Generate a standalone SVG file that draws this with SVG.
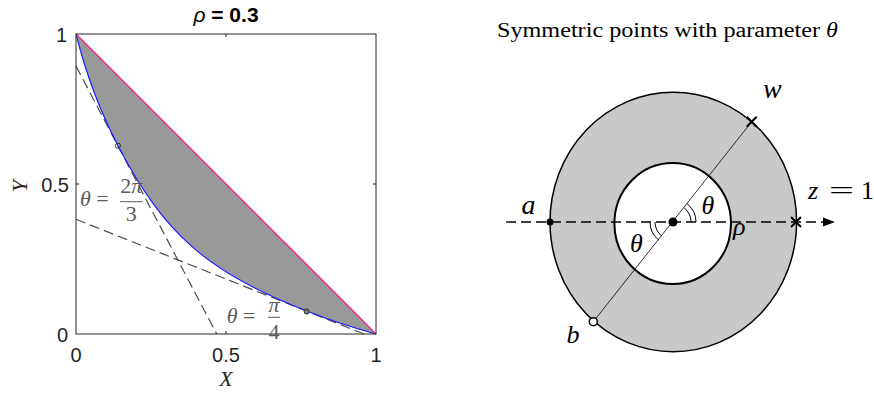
<svg xmlns="http://www.w3.org/2000/svg" width="874" height="394" viewBox="0 0 874 394">
<style>
.tick{font-family:"Liberation Sans",Arial,sans-serif;font-size:20px;fill:#262626}
.ser{font-family:"Liberation Serif","Times New Roman",serif}
.it{font-style:italic}
.glab{font-family:"Liberation Serif","Times New Roman",serif;font-size:22px;fill:#5a5a5a}
.dash{stroke:#4d4d4d;stroke-width:1.2;stroke-dasharray:10 5;fill:none}
.m{font-family:"Liberation Serif","Times New Roman",serif;font-style:italic;fill:#000}
</style>
<defs>
<marker id="arr" markerWidth="13" markerHeight="10" refX="12" refY="5" orient="auto" markerUnits="userSpaceOnUse">
<path d="M0,0.5 L12,5 L0,9.5 z" fill="#000"/>
</marker>
</defs>
<rect width="874" height="394" fill="#fff"/>

<g id="plot">
<text x="226" y="22" text-anchor="middle" font-family="Liberation Sans,Arial,sans-serif" font-size="21" font-weight="bold" fill="#000"><tspan font-style="italic" font-weight="normal">ρ</tspan> = 0.3</text>
<path d="M76,34 L376,334 C352.4,327.6 329.5,320 306.7,311 C206,271 164.5,234.6 118,145.7 C99.1,109.5 86.5,76 76,34 Z" fill="#999999"/>
<path d="M76,66 L216.7,334" class="dash"/>
<path d="M76,219.3 L364,334" class="dash"/>
<path d="M76,34 C86.5,76 99.1,109.5 118,145.7 C164.5,234.6 206,271 306.7,311 C329.5,320 352.4,327.6 376,334" fill="none" stroke="#1a1aff" stroke-width="1.1"/>
<path d="M76,34 L376,334" stroke="#f0288c" stroke-width="1.5"/>
<circle cx="118" cy="145.7" r="2.6" fill="none" stroke="#333" stroke-width="1"/>
<circle cx="306.7" cy="311.5" r="2.6" fill="#777" stroke="#333" stroke-width="1"/>
<rect x="76" y="34" width="300" height="300" fill="none" stroke="#262626" stroke-width="1"/>
<path d="M226,34 v3 M226,334 v-3 M76,184 h3 M376,184 h-3" stroke="#262626" stroke-width="1"/>
<text class="tick" x="67" y="41.5" text-anchor="end">1</text>
<text class="tick" x="69" y="191.5" text-anchor="end">0.5</text>
<text class="tick" x="68" y="341.5" text-anchor="end">0</text>
<text class="tick" x="76" y="362" text-anchor="middle">0</text>
<text class="tick" x="226" y="362" text-anchor="middle">0.5</text>
<text class="tick" x="376" y="362" text-anchor="middle">1</text>
<text class="ser it" x="226" y="386" text-anchor="middle" font-size="22" fill="#262626">X</text>
<text class="ser it" transform="translate(27,186) rotate(-90)" text-anchor="middle" font-size="22" fill="#262626">Y</text>
<g id="label-2pi3">
<text class="glab" x="80" y="206"><tspan class="it">θ</tspan> =</text>
<text class="glab" x="131.3" y="193" text-anchor="middle">2<tspan class="it">π</tspan></text>
<path d="M120,201.7 H142.7" stroke="#5a5a5a" stroke-width="1"/>
<text class="glab" x="131.3" y="221" text-anchor="middle">3</text>
</g>
<g id="label-pi4">
<text class="glab" x="226.7" y="323.3"><tspan class="it">θ</tspan> =</text>
<text class="glab it" x="274" y="312" text-anchor="middle">π</text>
<path d="M268,317.3 H280" stroke="#5a5a5a" stroke-width="1"/>
<text class="glab" x="274" y="339" text-anchor="middle">4</text>
</g>
</g>

<g id="annulus">
<text class="ser" x="497" y="37" font-size="20" fill="#000" textLength="341" lengthAdjust="spacingAndGlyphs">Symmetric points with parameter <tspan class="it">θ</tspan></text>
<ellipse cx="673.3" cy="222" rx="123.3" ry="129.7" fill="#c8cac8" stroke="#000" stroke-width="1.5"/>
<ellipse cx="672.7" cy="223.5" rx="58.3" ry="60.5" fill="#fff" stroke="#000" stroke-width="2"/>
</g>

<g id="connectors">
<path d="M506,222 H835" stroke="#000" stroke-width="1.3" stroke-dasharray="10 5" fill="none" marker-end="url(#arr)"/>
<path d="M593.3,321.7 L751.7,121.7" stroke="#000" stroke-width="0.8"/>
<path d="M691,222 A18,18 0 0 0 684.1,207.9 M696,222 A23,23 0 0 0 687.2,203.9" fill="none" stroke="#000" stroke-width="1"/>
<path d="M655,222 A18,18 0 0 0 661.9,236.1 M650,222 A23,23 0 0 0 658.8,240.1" fill="none" stroke="#000" stroke-width="1"/>
</g>

<g id="point-center"><circle cx="673" cy="222" r="4.5" fill="#000"/></g>
<g id="point-a">
<circle cx="550" cy="222" r="3.5" fill="#000"/>
<text class="m" x="521.5" y="214" font-size="28">a</text>
</g>
<g id="point-b">
<circle cx="593.3" cy="321.7" r="4" fill="#fff" stroke="#000" stroke-width="1.5"/>
<text class="m" x="566.5" y="343.3" font-size="26">b</text>
</g>
<g id="point-w">
<path d="M746.7,116.7 L756.7,126.7 M756.7,116.7 L746.7,126.7" stroke="#000" stroke-width="2"/>
<text class="m" x="763" y="98.3" font-size="28">w</text>
</g>
<g id="point-z">
<path d="M791,217 L801,227 M801,217 L791,227" stroke="#000" stroke-width="2"/>
<text class="ser" x="808" y="199.3" font-size="26" fill="#000"><tspan class="it">z</tspan><tspan x="829" textLength="25" lengthAdjust="spacingAndGlyphs">=</tspan><tspan x="861">1</tspan></text>
</g>
<g id="angle-labels">
<text class="m" x="701.5" y="214.3" font-size="26">θ</text>
<text class="m" x="630" y="251.5" font-size="26">θ</text>
<text class="m" x="733" y="235" font-size="26">ρ</text>
</g>
</svg>
